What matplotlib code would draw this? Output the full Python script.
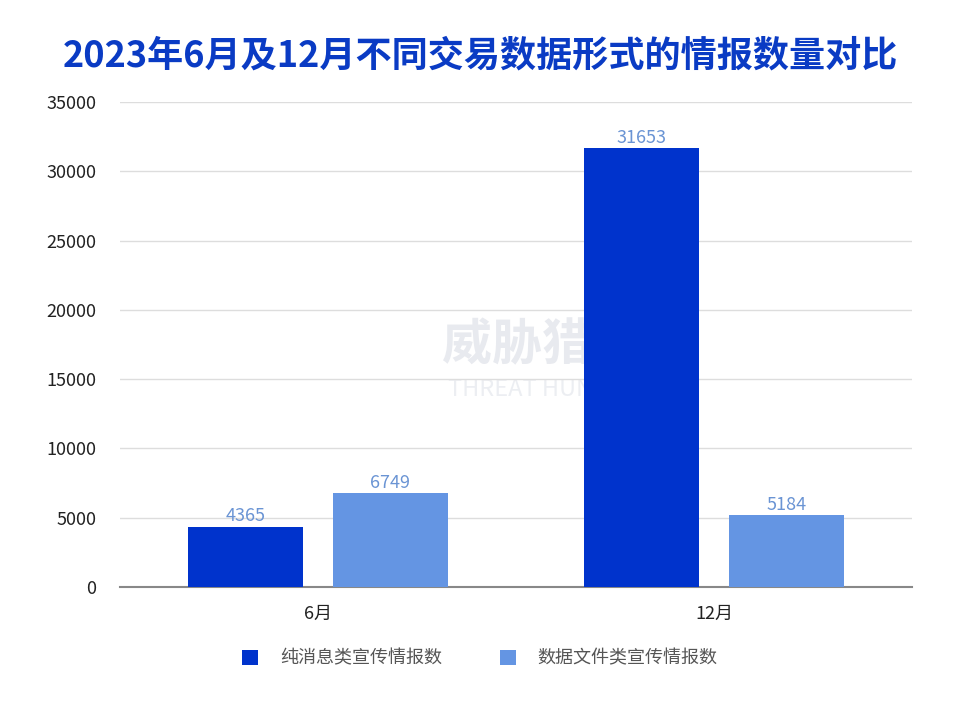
import matplotlib
matplotlib.use('Agg')
import matplotlib.pyplot as plt
import numpy as np

plt.rcParams['font.family'] = ['Noto Sans CJK SC', 'DejaVu Sans']

# data
months = ['6月', '12月']
series_names = ['纯消息类宣传情报数', '数据文件类宣传情报数']
text_only = [4365, 31653]
data_file = [6749, 5184]
y_ticks = [0, 5000, 10000, 15000, 20000, 25000, 30000, 35000]

dark_blue = '#0033CC'
light_blue = '#6495E3'
label_color = '#6A94D4'

fig = plt.figure(figsize=(9.6, 7.2), dpi=100)
ax = fig.add_axes([0.125, 0.1847, 0.825, 0.6736])

x = np.arange(len(months))
w = 0.29
off = 0.183
b1 = ax.bar(x - off, text_only, width=w, color=dark_blue, label=series_names[0], zorder=3)
b2 = ax.bar(x + off, data_file, width=w, color=light_blue, label=series_names[1], zorder=3)

for bars in (b1, b2):
    for rect in bars:
        ax.text(rect.get_x() + rect.get_width() / 2, rect.get_height() + 80,
                str(int(rect.get_height())), ha='center', va='bottom',
                fontsize=13, color=label_color, zorder=4)

ax.set_xlim(-0.5, 1.5)
ax.set_ylim(0, 35000)
ax.set_yticks(y_ticks)
ax.set_yticklabels([str(t) for t in y_ticks], fontsize=13, color='#222222')
ax.set_xticks(x)
ax.set_xticklabels(months, fontsize=13, color='#222222')
ax.tick_params(axis='both', length=0)
ax.tick_params(axis='y', pad=17)
ax.tick_params(axis='x', pad=13)
ax.grid(axis='y', color='#DDDDDD', linewidth=1, zorder=0)
for s in ['top', 'right', 'left']:
    ax.spines[s].set_visible(False)
ax.spines['bottom'].set_color('#888888')
ax.spines['bottom'].set_linewidth(1.5)

# faint watermark, behind the bars
ax.text(0.565, 0.485, '威胁猎人', fontsize=36, fontweight='bold', color='#E8EAEF',
        ha='center', va='bottom', transform=fig.transFigure, zorder=1)
ax.text(0.565, 0.475, 'THREAT HUNTER', fontsize=17, color='#ECEEF2',
        ha='center', va='top', transform=fig.transFigure, zorder=1)

fig.text(0.5, 0.922, '2023年6月及12月不同交易数据形式的情报数量对比', fontsize=26,
         fontweight='bold', color='#0A3BC4', ha='center', va='center')

fig.legend(handles=[b1, b2], labels=series_names, loc='center', bbox_to_anchor=(0.5, 0.085),
           ncol=2, frameon=False, fontsize=13, handlelength=0.9, handleheight=0.9,
           columnspacing=3.2, handletextpad=1.2, labelcolor='#555555')

fig.savefig('out.png', dpi=100)
